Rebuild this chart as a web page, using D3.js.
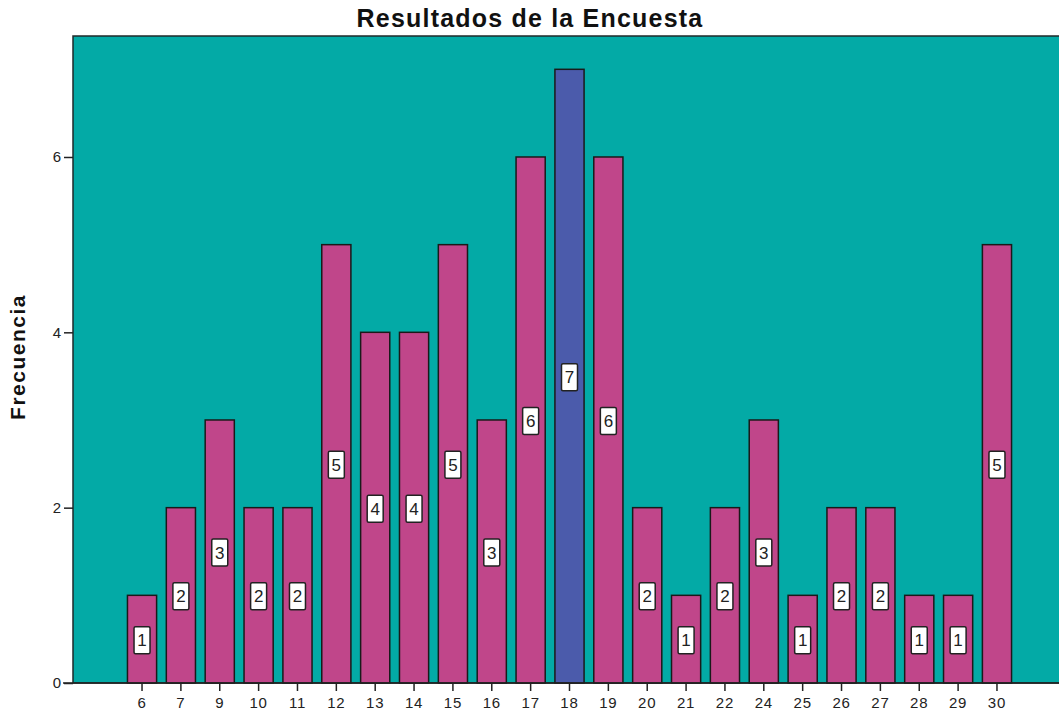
<!DOCTYPE html>
<html>
<head>
<meta charset="utf-8">
<script src="https://cdn.jsdelivr.net/npm/d3@7"></script>
<style>
  body { margin: 0; background: #fff; }
  text { font-family: "Liberation Sans", Arial, sans-serif; }
</style>
</head>
<body>
<div id="chart"></div>
<script>
// Data
const categories = ["6","7","9","10","11","12","13","14","15","16","17","18","19","20","21","22","24","25","26","27","28","29","30"];
const frequencies = [1,2,3,2,2,5,4,4,5,3,6,7,6,2,1,2,3,1,2,2,1,1,5];
const highlighted = "18";
const yTicks = [0, 2, 4, 6];

// SVG setup
const width = 1059;
const height = 714;

const svg = d3.select("#chart")
    .append("svg")
    .attr("width", width)
    .attr("height", height);

const plotLeft = 73, plotTop = 36, plotBottom = 683, plotRight = 1062;

const x = d3.scaleBand()
    .domain(categories)
    .range([122.6, 1016.4])
    .paddingInner(0.25)
    .paddingOuter(0.125);

const y = d3.scaleLinear()
    .domain([0, 7.38])
    .range([plotBottom, plotTop]);

// Plot background
svg.append("rect")
    .attr("x", plotLeft)
    .attr("y", plotTop)
    .attr("width", plotRight - plotLeft)
    .attr("height", plotBottom - plotTop)
    .attr("fill", "#03aaa6")
    .attr("stroke", "#1f2a2a")
    .attr("stroke-width", 1.5);

// Bars
svg.selectAll("rect.bar")
    .data(categories)
    .join("rect")
    .attr("class", "bar")
    .attr("x", d => x(d))
    .attr("y", (d, i) => y(frequencies[i]))
    .attr("width", x.bandwidth())
    .attr("height", (d, i) => y(0) - y(frequencies[i]))
    .attr("fill", d => d === highlighted ? "#4b5bab" : "#c0468a")
    .attr("stroke", "#1a1a1a")
    .attr("stroke-width", 1.5);

// Value labels
const labels = svg.selectAll("g.lbl")
    .data(categories)
    .join("g")
    .attr("class", "lbl")
    .attr("transform", (d, i) => `translate(${x(d) + x.bandwidth() / 2},${y(frequencies[i] / 2) + 1})`);

labels.append("rect")
    .attr("x", -8)
    .attr("y", -13.5)
    .attr("width", 16)
    .attr("height", 27)
    .attr("rx", 1.5)
    .attr("fill", "#fff")
    .attr("stroke", "#222")
    .attr("stroke-width", 1.5);

labels.append("text")
    .attr("text-anchor", "middle")
    .attr("dy", "0.36em")
    .style("font-size", "17px")
    .style("fill", "#222")
    .text((d, i) => frequencies[i]);

// Axes
const xAxis = svg.append("g")
    .attr("transform", `translate(0,${plotBottom})`)
    .call(d3.axisBottom(x).tickSize(8).tickSizeOuter(0));
xAxis.select(".domain").remove();
xAxis.selectAll("line").attr("stroke", "#222").attr("stroke-width", 1.5);
xAxis.selectAll("text")
    .style("font-size", "15px")
    .style("letter-spacing", "0.8px")
    .style("font-family", "'Liberation Sans', Arial, sans-serif")
    .attr("fill", "#222")
    .attr("dy", "0.9em");

svg.append("line")
    .attr("x1", plotLeft - 10)
    .attr("x2", width)
    .attr("y1", plotBottom)
    .attr("y2", plotBottom)
    .attr("stroke", "#222")
    .attr("stroke-width", 1.5);

const yAxis = svg.append("g")
    .attr("transform", `translate(${plotLeft},0)`)
    .call(d3.axisLeft(y).tickValues(yTicks).tickSize(9).tickPadding(3));
yAxis.select(".domain").remove();
yAxis.selectAll("line").attr("stroke", "#222").attr("stroke-width", 1.5);
yAxis.selectAll("text")
    .style("font-size", "15px")
    .style("font-family", "'Liberation Sans', Arial, sans-serif")
    .attr("fill", "#222");

// Title
svg.append("text")
    .attr("x", 530)
    .attr("y", 27)
    .attr("text-anchor", "middle")
    .style("font-size", "25px")
    .style("letter-spacing", "1.2px")
    .style("font-weight", "bold")
    .style("fill", "#111")
    .text("Resultados de la Encuesta");

// Y label
svg.append("text")
    .attr("transform", "translate(25,357) rotate(-90)")
    .attr("text-anchor", "middle")
    .style("font-size", "21px")
    .style("letter-spacing", "1.5px")
    .style("font-weight", "bold")
    .style("fill", "#111")
    .text("Frecuencia");
</script>
</body>
</html>
